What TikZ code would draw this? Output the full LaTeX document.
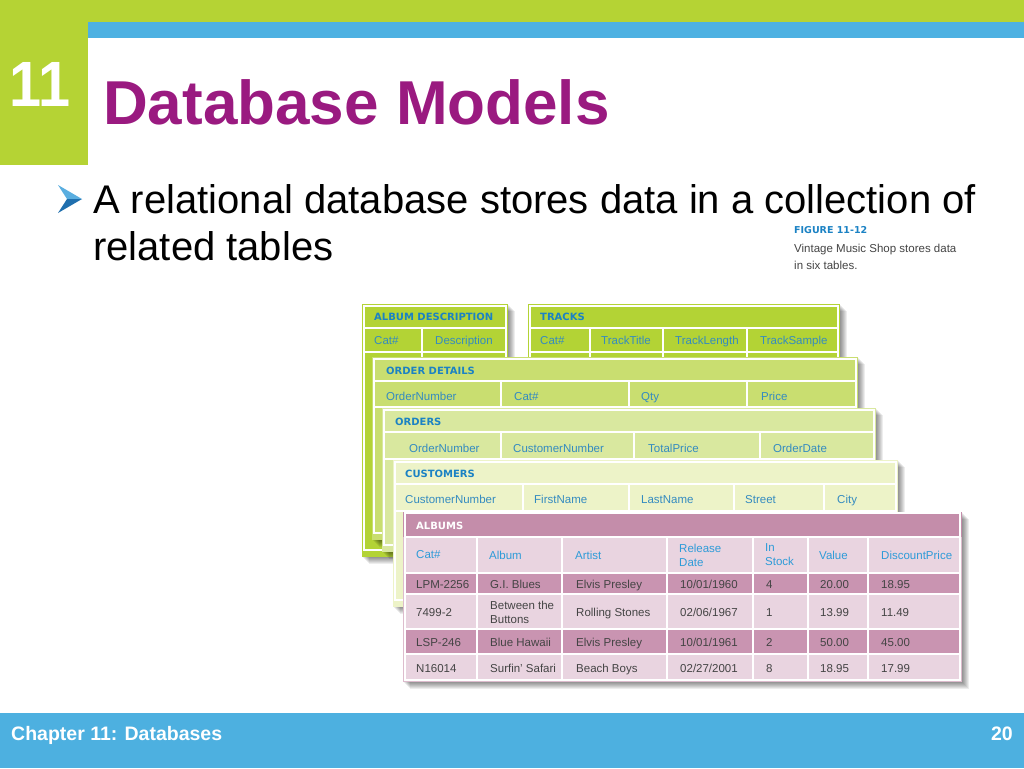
\documentclass[tikz,border=0pt]{standalone}
\usepackage{fontspec}
\setmainfont{Liberation Sans}
\newfontfamily\hdrfont{DejaVu Sans}
\definecolor{topgreen}{HTML}{B5D334}
\definecolor{stripe}{HTML}{4DB1E2}
\definecolor{titlep}{HTML}{9A1A80}
\definecolor{footblue}{HTML}{4DB0E0}
\definecolor{bularrL}{HTML}{5AAEE0}
\definecolor{bularrD}{HTML}{1F6FAE}
\definecolor{gA}{HTML}{B3D335}
\definecolor{gB}{HTML}{C9DE70}
\definecolor{gC}{HTML}{D9E89F}
\definecolor{gD}{HTML}{EDF3C8}
\definecolor{mHead}{HTML}{C48DAA}
\definecolor{mDark}{HTML}{C994B1}
\definecolor{mLight}{HTML}{E9D4E0}
\definecolor{mFrame}{HTML}{DDBCCD}
\definecolor{hblue}{HTML}{1B82C4}
\definecolor{cblue}{HTML}{348BC0}
\definecolor{ablue}{HTML}{2E9BD8}
\definecolor{dgray}{HTML}{444444}
\newcommand\tshadow[4]{\foreach \d in {1,...,7}{\fill[black,opacity=0.07] ({#1+\d},{#2+\d}) rectangle ({#3+\d},{#4+\d});}}
\newcommand\trow[4]{\foreach \a/\b in {#4}{\path[cellb,fill=#3] (\a,#1) rectangle (\b,#2);}}
\newcommand\alrow[9]{%
 \node[dat] (#2a) at (416,#1) {#3};
 \node[dat] (#2b) at (490,#1) {#4};
 \node[dat] (#2c) at (576,#1) {#5};
 \node[dat] (#2d) at (680,#1) {#6};
 \node[dat] (#2e) at (766,#1) {#7};
 \node[dat] (#2f) at (820,#1) {#8};
 \node[dat] (#2g) at (881,#1) {#9};}
\tikzset{
 hdr/.style={anchor=base west, inner sep=0pt, text=hblue, font=\hdrfont\bfseries\fontsize{10}{12}\selectfont},
 colt/.style={anchor=base west, inner sep=0pt, text=cblue, font=\fontsize{11.5}{13}\selectfont},
 colm/.style={anchor=west, inner sep=0pt, text=ablue, align=left, font=\fontsize{11.5}{14}\selectfont},
 dat/.style={anchor=base west, inner sep=0pt, text=dgray, font=\fontsize{11.5}{13}\selectfont},
 datm/.style={anchor=west, inner sep=0pt, text=dgray, align=left, font=\fontsize{11.5}{14}\selectfont},
 cellb/.style={draw=white, line width=1.5pt},
}
\begin{document}
\begin{tikzpicture}[x=1pt,y=-1pt]
\useasboundingbox (0,0) rectangle (1024,768);
\fill[white] (0,0) rectangle (1024,768);
% header bars
\fill[topgreen] (0,0) rectangle (1024,22);
\fill[stripe] (88,22) rectangle (1024,38);
\fill[topgreen] (0,0) rectangle (88,165);
\node[text=white, inner sep=0pt, xscale=0.9, font=\bfseries\fontsize{64}{70}\selectfont] (num) at (40,84) {11};
\node[anchor=base west, inner sep=0pt, text=titlep, font=\bfseries\fontsize{62}{70}\selectfont] (title) at (103,124) {Database Models};
% bullet
\fill[bularrL] (58,185) -- (82,199) -- (67,199) -- cycle;
\fill[bularrD] (67,199) -- (82,199) -- (58,213) -- cycle;
\node[anchor=base west, inner sep=0pt, text=black, font=\fontsize{40}{47}\selectfont] (bt1) at (93,213) {A relational database stores data in a collection of};
\node[anchor=base west, inner sep=0pt, text=black, font=\fontsize{40}{47}\selectfont] (bt2) at (93,260) {related tables};
% caption
\node[anchor=base west, inner sep=0pt, text=hblue, font=\hdrfont\bfseries\fontsize{9.5}{11}\selectfont] (figt) at (794,233) {FIGURE 11-12};
\node[anchor=base west, inner sep=0pt, text=dgray, font=\fontsize{11.5}{13}\selectfont] (cap1) at (794,252) {Vintage Music Shop stores data};
\node[anchor=base west, inner sep=0pt, text=dgray, font=\fontsize{11.5}{13}\selectfont] (cap2) at (794,269) {in six tables.};
% ALBUM DESCRIPTION
\tshadow{362}{304}{508}{557}
\fill[gA] (362,304) rectangle (508,557);
\trow{306}{328}{gA}{364/506}
\trow{328}{352}{gA}{364/422,422/506}
\trow{352}{550}{gA}{364/422,422/506}
\node[hdr] (adh) at (374,320) {ALBUM DESCRIPTION};
\node[colt] (ad1) at (374,344) {Cat\#};
\node[colt] (ad2) at (435,344) {Description};
% TRACKS
\tshadow{528}{304}{840}{370}
\fill[gA] (528,304) rectangle (840,370);
\trow{306}{328}{gA}{530/838}
\trow{328}{352}{gA}{530/590,590/663,663/747,747/838}
\trow{352}{370}{gA}{530/590,590/663,663/747,747/838}
\node[hdr] (trh) at (540,320) {TRACKS};
\node[colt] (tr1) at (540,344) {Cat\#};
\node[colt] (tr2) at (601,344) {TrackTitle};
\node[colt] (tr3) at (675,344) {TrackLength};
\node[colt] (tr4) at (760,344) {TrackSample};
% ORDER DETAILS
\tshadow{372}{357}{858}{540}
\fill[gB] (372,357) rectangle (858,540);
\trow{359}{381}{gB}{374/856}
\trow{381}{407}{gB}{374/501,501/629,629/747,747/856}
\trow{407}{533}{gB}{374/501,501/629,629/747,747/856}
\node[hdr] (odh) at (386,374) {ORDER DETAILS};
\node[colt] (od1) at (386,400) {OrderNumber};
\node[colt] (od2) at (514,400) {Cat\#};
\node[colt] (od3) at (641,400) {Qty};
\node[colt] (od4) at (761,400) {Price};
% ORDERS
\tshadow{382}{408}{876}{552}
\fill[gC] (382,408) rectangle (876,552);
\trow{410}{432}{gC}{384/874}
\trow{432}{459}{gC}{384/501,501/634,634/760,760/874}
\trow{459}{545}{gC}{384/501,501/634,634/760,760/874}
\node[hdr] (orh) at (395,425) {ORDERS};
\node[colt] (or1) at (409,452) {OrderNumber};
\node[colt] (or2) at (513,452) {CustomerNumber};
\node[colt] (or3) at (648,452) {TotalPrice};
\node[colt] (or4) at (773,452) {OrderDate};
% CUSTOMERS
\tshadow{393}{460}{898}{607}
\fill[gD] (393,460) rectangle (898,607);
\trow{462}{484}{gD}{395/896}
\trow{484}{511}{gD}{395/523,523/629,629/734,734/824,824/896}
\trow{511}{600}{gD}{395/523,523/629,629/734,734/824,824/896}
\node[hdr] (cuh) at (405,477) {CUSTOMERS};
\node[colt] (cu1) at (405,503) {CustomerNumber};
\node[colt] (cu2) at (534,503) {FirstName};
\node[colt] (cu3) at (641,503) {LastName};
\node[colt] (cu4) at (745,503) {Street};
\node[colt] (cu5) at (837,503) {City};
% ALBUMS
\tshadow{403}{512}{962}{682}
\fill[mFrame] (403,512) rectangle (962,682);
\fill[mHead] (403,512) rectangle (962,537);
\trow{513}{537}{mHead}{405/960}
\trow{537}{573}{mLight}{405/477,477/562,562/667,667/753,753/808,808/868,868/960}
\trow{573}{594}{mDark}{405/477,477/562,562/667,667/753,753/808,808/868,868/960}
\trow{594}{629}{mLight}{405/477,477/562,562/667,667/753,753/808,808/868,868/960}
\trow{629}{654}{mDark}{405/477,477/562,562/667,667/753,753/808,808/868,868/960}
\trow{654}{680}{mLight}{405/477,477/562,562/667,667/753,753/808,808/868,868/960}
\node[hdr, text=white] (alh) at (416,529) {ALBUMS};
\node[colm] (al1) at (416,555) {Cat\#};
\node[colm] (al2) at (489,555) {Album};
\node[colm] (al3) at (575,555) {Artist};
\node[colm] (al4) at (679,555) {Release\\Date};
\node[colm] (al5) at (765,555) {In\\Stock};
\node[colm] (al6) at (819,555) {Value};
\node[colm] (al7) at (881,555) {DiscountPrice};
\alrow{588}{ra}{LPM-2256}{G.I. Blues}{Elvis Presley}{10/01/1960}{4}{20.00}{18.95}
\node[dat] (rba) at (416,616) {7499-2};
\node[datm] (rbb) at (490,612) {Between the\\Buttons};
\node[dat] (rbc) at (576,616) {Rolling Stones};
\node[dat] (rbd) at (680,616) {02/06/1967};
\node[dat] (rbe) at (766,616) {1};
\node[dat] (rbf) at (820,616) {13.99};
\node[dat] (rbg) at (881,616) {11.49};
\alrow{646}{rc}{LSP-246}{Blue Hawaii}{Elvis Presley}{10/01/1961}{2}{50.00}{45.00}
\alrow{672}{rd}{N16014}{Surfin’ Safari}{Beach Boys}{02/27/2001}{8}{18.95}{17.99}
% footer
\fill[footblue] (0,713) rectangle (1024,768);
\node[anchor=base west, inner sep=0pt, text=white, font=\bfseries\fontsize{19.5}{22}\selectfont] (foot) at (11,740) {Chapter 11: Databases};
\node[anchor=base east, inner sep=0pt, text=white, font=\bfseries\fontsize{19.5}{22}\selectfont] (page) at (1013,740) {20};
\end{tikzpicture}
\end{document}
